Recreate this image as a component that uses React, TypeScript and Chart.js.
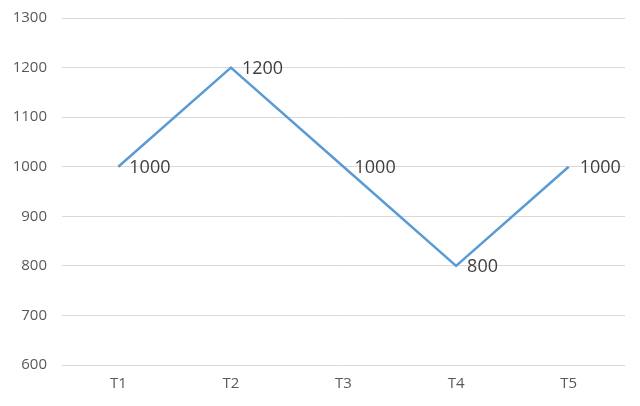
import React, { useEffect, useRef } from "react";
import { Chart, registerables } from "chart.js";

Chart.register(...registerables);

const categories = ["T1", "T2", "T3", "T4", "T5"];
const values = [1000, 1200, 1000, 800, 1000];
const yMin = 600;
const yMax = 1300;
const yStep = 100;

const FONT = "'Open Sans', 'Liberation Sans', sans-serif";

const dataLabelPlugin = {
  id: "dataLabels",
  afterDatasetsDraw(chart: any) {
    const ctx = chart.ctx;
    const meta = chart.getDatasetMeta(0);
    ctx.save();
    ctx.font = `18px ${FONT}`;
    ctx.fillStyle = "#404040";
    ctx.textAlign = "left";
    ctx.textBaseline = "middle";
    meta.data.forEach((pt: any, i: number) => {
      ctx.fillText(String(values[i]), pt.x + 11, pt.y + 1);
    });
    ctx.restore();
  },
};

export default function App() {
  const ref = useRef<HTMLCanvasElement>(null);
  useEffect(() => {
    document.body.style.margin = "0";
    const chart = new Chart(ref.current!, {
      type: "line",
      data: {
        labels: categories,
        datasets: [
          {
            data: values,
            borderColor: "#5B9BD5",
            borderWidth: 2.5,
            pointRadius: 0,
            tension: 0,
            fill: false,
          },
        ],
      },
      options: {
        animation: false,
        responsive: false,
        maintainAspectRatio: false,
        layout: { padding: { top: 18, right: 15, left: 0, bottom: 0 } },
        plugins: { legend: { display: false }, tooltip: { enabled: false } },
        scales: {
          x: {
            offset: true,
            grid: { display: false, drawTicks: false },
            border: { display: false },
            ticks: { color: "#595959", font: { family: FONT, size: 15 }, padding: 10 },
            afterFit(axis: any) {
              axis.height = 41;
            },
          },
          y: {
            min: yMin,
            max: yMax,
            grid: { color: "#d9d9d9", lineWidth: 1, drawTicks: false },
            border: { display: false },
            ticks: {
              stepSize: yStep,
              color: "#595959",
              font: { family: FONT, size: 15 },
              padding: 15,
              callback: (v: any) => String(v),
            },
            afterFit(axis: any) {
              axis.width = 62;
              axis.paddingTop = 0;
              axis.paddingBottom = 0;
            },
          },
        },
      },
      plugins: [dataLabelPlugin],
    });
    return () => chart.destroy();
  }, []);
  return (
    <div style={{ width: 640, height: 406 }}>
      <canvas ref={ref} width={640} height={406} style={{ display: "block" }} />
    </div>
  );
}
